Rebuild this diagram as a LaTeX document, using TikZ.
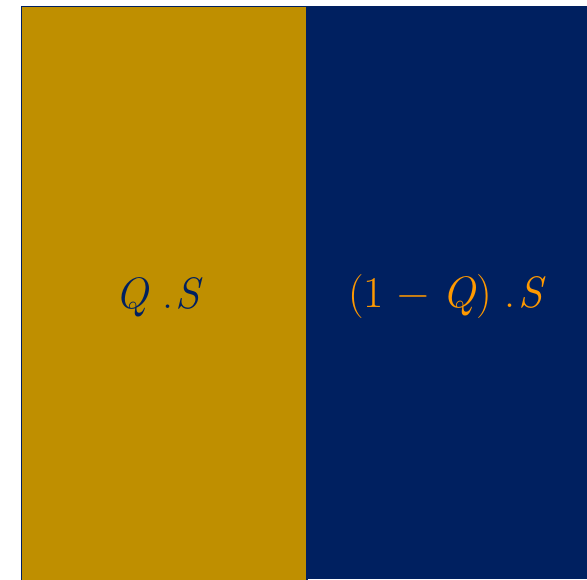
\documentclass[tikz,border=0pt]{standalone}
\usepackage{fontspec}
\setmainfont{Latin Modern Roman}
\definecolor{gold}{HTML}{BF8F00}
\definecolor{navy}{HTML}{002060}
\definecolor{orng}{HTML}{FF9900}
\begin{document}
\begin{tikzpicture}[x=1pt,y=1pt,
  lbl/.style={font=\fontsize{44}{52}\selectfont, inner sep=0pt}]
\useasboundingbox (0,0) rectangle (587,579);
\fill[white] (0,0) rectangle (587,579);
\fill[navy] (307,0) rectangle (587,573);
\fill[gold, draw=navy, line width=1.5pt] (21.5,-2) rectangle (307,572.5);
\node[lbl, text=navy] (a) at (159,282) {\textit{Q}\hspace{0.3em}.\hspace{0.05em}\textit{S}};
\node[lbl, text=orng] (b) at (447,282) {(1\hspace{0.3em}\char"2212\hspace{0.3em}\textit{Q})\hspace{0.3em}.\hspace{0.05em}\textit{S}};
\end{tikzpicture}
\end{document}
